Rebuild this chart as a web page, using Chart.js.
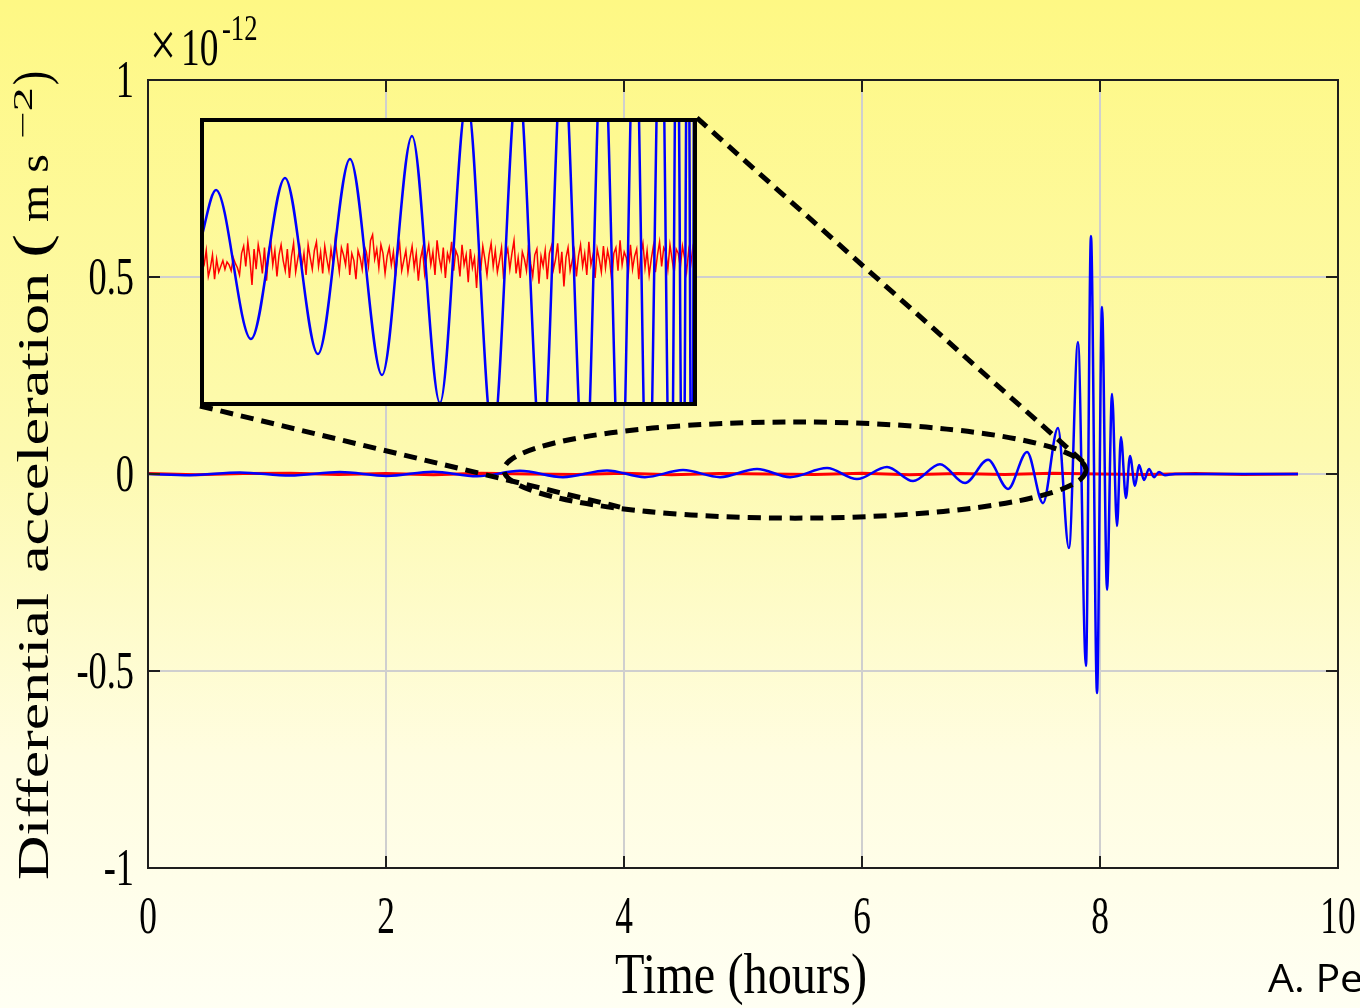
<!DOCTYPE html>
<html>
<head>
<meta charset="utf-8">
<script src="https://cdn.jsdelivr.net/npm/chart.js@4.4.1/dist/chart.umd.min.js"></script>
<style>
  html, body { margin: 0; padding: 0; }
  body {
    width: 1360px; height: 1008px; overflow: hidden; position: relative;
    background: linear-gradient(to bottom, #fef884 0%, #fdfab0 45%, #fffde0 75%, #fffff3 100%);
  }
  #main { position: absolute; left: 0; top: 0; }
  #inset { position: absolute; }
</style>
</head>
<body>
<canvas id="main" width="1360" height="1008"></canvas>
<canvas id="inset" width="497" height="288"></canvas>
<script>
// Main signal (blue), values in units of 1e-12 m s^-2, time in hours
const mainHours = [0, 0.353, 0.773, 1.193, 1.613, 2.008, 2.395, 2.765, 3.126, 3.487, 3.857, 4.176,
  4.496, 4.807, 5.118, 5.395, 5.706, 5.958, 6.210, 6.429, 6.655, 6.866, 7.059, 7.227, 7.387, 7.521,
  7.647, 7.739, 7.815, 7.882, 7.924, 7.975, 8.017, 8.059, 8.101, 8.143, 8.176, 8.218, 8.252, 8.294,
  8.328, 8.370, 8.412, 8.454, 8.496, 8.546, 8.63, 9.664];
const mainBlue = [0, -0.003, 0.004, -0.004, 0.005, -0.005, 0.006, -0.006, 0.008, -0.008, 0.009, -0.008,
  0.010, -0.008, 0.013, -0.008, 0.015, -0.013, 0.018, -0.018, 0.025, -0.023, 0.036, -0.038, 0.056, -0.074,
  0.117, -0.188, 0.335, -0.487, 0.604, -0.556, 0.424, -0.294, 0.203, -0.132, 0.094, -0.061, 0.046, -0.030,
  0.023, -0.015, 0.013, -0.008, 0.005, -0.003, 0, 0];

// Noise floor (red) on the main axes
const redHours = [0, 0.4, 0.8, 1.2, 1.6, 2.0, 2.4, 2.8, 3.2, 3.6, 4.0, 4.4, 4.8, 5.2, 5.6, 6.0,
  6.4, 6.8, 7.2, 7.6, 8.0, 8.4, 8.8, 9.2, 9.664];
const redMain = [0.001, -0.002, 0.001, 0.002, -0.001, 0.001, -0.002, 0.002, 0, -0.001, 0.002, -0.002,
  0.001, 0, -0.001, 0.002, -0.002, 0.001, -0.001, 0.002, 0, -0.001, 0.001, -0.001, 0];

// Zoomed inset (arbitrary units)
const insetHours = [3.000, 3.157, 3.500, 3.833, 4.156, 4.470, 4.784, 5.078, 5.352, 5.617, 5.871, 6.116,
  6.352, 6.557, 6.773, 6.949, 7.126, 7.263, 7.390, 7.518, 7.616, 7.675, 7.733, 7.782, 7.822, 7.851, 7.871];
const insetBlue = [0.13, 0.50, -0.535, 0.583, -0.639, 0.715, -0.785, 0.875, -0.979, 1.13, -1.22, 1.3,
  -1.4, 1.5, -1.6, 1.7, -1.8, 1.9, -2.0, 2.1, -2.2, 2.3, -2.4, 2.5, -2.6, 2.7, -2.8];
const insetRed = [
  0.03, -0.06, -0.02, 0.08, -0.10, -0.04, 0.05, -0.12, 0.02, -0.07,
  -0.03, 0.01, -0.05, 0.00, -0.02, -0.06, 0.03, -0.01, -0.04, -0.09,
  0.06, 0.11, -0.03, 0.14, 0.02, -0.16, 0.09, -0.05, 0.12, 0.04,
  -0.08, 0.10, -0.13, 0.07, 0.15, -0.02, 0.08, -0.10, 0.05, 0.12,
  0.01, -0.06, 0.09, -0.11, 0.04, 0.13, -0.07, 0.02, 0.10, -0.04,
  0.06, -0.09, 0.12, 0.03, -0.05, 0.08, 0.14, -0.03, 0.07, -0.08,
  0.11, 0.02, -0.06, 0.09, -0.01, 0.16, 0.04, -0.07, 0.10, 0.05,
  -0.02, 0.13, -0.09, 0.06, 0.01, -0.12, 0.08, 0.03, -0.05, 0.11,
  0.07, -0.03, 0.15, 0.19, 0.02, 0.09, -0.04, 0.12, 0.06, -0.08,
  0.04, 0.10, -0.02, 0.07, -0.10, 0.05, 0.13, -0.06, 0.01, 0.08,
  -0.07, 0.03, 0.11, -0.04, 0.06, -0.13, 0.02, 0.09, -0.08, 0.04,
  0.12, -0.02, 0.07, -0.09, 0.15, 0.03, -0.05, 0.10, -0.11, 0.06,
  0.01, 0.14, -0.06, 0.08, 0.04, -0.10, 0.12, -0.02, 0.05, -0.14,
  0.09, -0.04, 0.03, -0.18, 0.07, -0.06, 0.11, 0.02, -0.09, 0.05,
  0.13, -0.03, 0.08, -0.07, 0.01, 0.10, -0.12, 0.04, 0.09, -0.05,
  0.06, 0.15, -0.08, 0.03, -0.11, 0.07, 0.02, -0.06, 0.12, -0.01,
  -0.10, 0.05, 0.09, -0.15, 0.04, -0.03, 0.08, -0.12, 0.06, 0.11,
  -0.05, 0.02, 0.13, -0.08, 0.07, -0.17, 0.03, 0.10, -0.06, 0.01,
  0.08, -0.10, 0.04, 0.12, -0.03, 0.06, -0.09, 0.14, -0.02, 0.05,
  -0.11, 0.09, 0.02, -0.07, 0.11, -0.04, 0.08, 0.01, -0.13, 0.06,
  0.10, -0.06, 0.15, -0.02, 0.07, 0.03, -0.08, 0.12, -0.05, 0.04,
  0.09, -0.12, 0.06, 0.13, -0.04, 0.08, -0.09, 0.02, 0.11, -0.07,
  0.05, 0.14, -0.03, 0.10, 0.07, -0.05, 0.12, 0.02, -0.08, 0.09,
  0.06, -0.04, 0.11, 0.03, -0.07, 0.08, -0.02, 0.10, 0.04, 0.07];

// Ticks
const xTicks = [0, 2, 4, 6, 8, 10];
const xTickLabels = ["0", "2", "4", "6", "8", "10"];
const yTicks = [-1, -0.5, 0, 0.5, 1];
const yTickLabels = ["-1", "-0.5", "0", "0.5", "1"];

// Annotation geometry in data coordinates (hours, 1e-12 m s^-2)
const insetBox = { t0: 0.437, t1: 4.613, v0: 0.1726, v1: 0.9036 };
const zoomEllipse = { t: 5.437, v: 0.01, rt: 2.445, rv: 0.122 };

const SERIF = "'Liberation Serif', 'DejaVu Serif', serif";

// draw text, squeezed horizontally by sx (or fitted to width)
const drawText = (ctx, txt, x, y, o) => {
  ctx.save();
  ctx.font = o.font;
  const w = ctx.measureText(txt).width;
  const sx = o.width ? o.width / w : (o.sx || 1);
  ctx.translate(x, y);
  ctx.scale(sx, o.sy || 1);
  ctx.textAlign = o.align || "left";
  ctx.textBaseline = "alphabetic";
  ctx.fillStyle = o.color || "#000";
  ctx.fillText(txt, 0, 0);
  ctx.restore();
};

const toPts = (xs, ys) => xs.map((t, i) => ({ x: t, y: ys[i] }));

// Dashed zoom marks
const zoomMarks = {
  id: "zoomMarks",
  afterDatasetsDraw(chart) {
    const { ctx, scales: { x, y } } = chart;
    ctx.save();
    ctx.strokeStyle = "#000";
    ctx.lineWidth = 5;
    ctx.setLineDash([13, 8]);
    // ellipse
    const cx = x.getPixelForValue(zoomEllipse.t);
    const cy = y.getPixelForValue(zoomEllipse.v);
    const rx = x.getPixelForValue(zoomEllipse.t + zoomEllipse.rt) - cx;
    const ry = cy - y.getPixelForValue(zoomEllipse.v + zoomEllipse.rv);
    ctx.beginPath();
    ctx.ellipse(cx, cy, rx, ry, 0, 0, Math.PI * 2);
    ctx.stroke();
    // connector lines
    ctx.beginPath();
    ctx.moveTo(x.getPixelForValue(insetBox.t1), y.getPixelForValue(insetBox.v1));
    ctx.lineTo(x.getPixelForValue(7.88), y.getPixelForValue(0.025));
    ctx.moveTo(x.getPixelForValue(insetBox.t0), y.getPixelForValue(insetBox.v0));
    ctx.lineTo(x.getPixelForValue(3.966), y.getPixelForValue(-0.084));
    ctx.stroke();
    ctx.restore();
  },
};

// y title pieces: offset along the text, length, font, raise
const yTitleParts = [
  { t: "Differential", at: 0, len: 287, f: `62px ${SERIF}`, dy: 0 },
  { t: "acceleration", at: 307, len: 300, f: `62px ${SERIF}`, dy: 0 },
  { t: "(", at: 622, len: 24, f: `70px ${SERIF}`, dy: 0 },
  { t: "m s", at: 658, len: 68, f: `58px ${SERIF}`, dy: 0 },
  { t: "\u22122", at: 741, len: 52, f: `38px ${SERIF}`, dy: -22 },
  { t: ")", at: 795, len: 14, f: `70px ${SERIF}`, dy: 0 },
];

// Box, inward ticks and all the text
const frame = {
  id: "frame",
  afterDraw(chart) {
    const { ctx, chartArea: a, scales: { x, y } } = chart;
    ctx.save();
    ctx.strokeStyle = "#1e1e1e";
    ctx.lineWidth = 2;
    ctx.strokeRect(a.left, a.top, a.width, a.height);
    ctx.beginPath();
    xTicks.forEach((t) => {
      const px = x.getPixelForValue(t);
      ctx.moveTo(px, a.bottom); ctx.lineTo(px, a.bottom - 12);
      ctx.moveTo(px, a.top); ctx.lineTo(px, a.top + 12);
    });
    yTicks.forEach((v) => {
      const py = y.getPixelForValue(v);
      ctx.moveTo(a.left, py); ctx.lineTo(a.left + 12, py);
      ctx.moveTo(a.right, py); ctx.lineTo(a.right - 12, py);
    });
    ctx.stroke();
    ctx.restore();

    const tickFont = `52px ${SERIF}`;
    xTicks.forEach((t, i) => {
      drawText(ctx, xTickLabels[i], x.getPixelForValue(t), a.bottom + 65, { font: tickFont, sx: 0.68, align: "center" });
    });
    yTicks.forEach((v, i) => {
      drawText(ctx, yTickLabels[i], a.left - 14, y.getPixelForValue(v) + 17, { font: tickFont, sx: 0.7, align: "right" });
    });

    // exponent
    drawText(ctx, "\u00d7", 150, 66, { font: `64px ${SERIF}`, sx: 0.72 });
    drawText(ctx, "10", 181, 65, { font: `52px ${SERIF}`, sx: 0.72 });
    drawText(ctx, "-12", 222, 40, { font: `36px ${SERIF}`, sx: 0.74 });

    // x title
    drawText(ctx, "Time (hours)", 741, 993, { font: `57px ${SERIF}`, width: 252, align: "center" });

    // y title, rotated; glyphs squeezed across the text direction
    ctx.save();
    ctx.translate(48, 880);
    ctx.rotate(-Math.PI / 2);
    yTitleParts.forEach((p) => {
      drawText(ctx, p.t, p.at, p.dy * 0.72, { font: p.f, width: p.len, sy: 0.72 });
    });
    ctx.restore();

    // credit
    drawText(ctx, "A. Pe", 1268, 992, { font: "38px 'Open Sans', 'Liberation Sans', sans-serif", sx: 1.08 });
  },
};

const hideScale = (s) => { s.width = 0; s.height = 0; };

const mainChart = new Chart(document.getElementById("main"), {
  type: "line",
  data: {
    datasets: [
      {
        label: "signal",
        data: toPts(mainHours, mainBlue),
        borderColor: "#0000ff",
        borderWidth: 2.5,
        pointRadius: 0,
        cubicInterpolationMode: "monotone",
      },
      {
        label: "noise",
        data: toPts(redHours, redMain),
        borderColor: "#ff0000",
        borderWidth: 3,
        pointRadius: 0,
      },
    ],
  },
  plugins: [zoomMarks, frame],
  options: {
    responsive: false,
    animation: false,
    layout: { padding: { left: 148, top: 80, right: 22, bottom: 140 } },
    plugins: { legend: { display: false }, tooltip: { enabled: false } },
    scales: {
      x: {
        type: "linear", min: 0, max: 10,
        ticks: { stepSize: 2, display: false },
        grid: { color: "#cfcfcf", lineWidth: 2, drawTicks: false },
        border: { display: false },
        afterFit: hideScale,
      },
      y: {
        type: "linear", min: -1, max: 1,
        ticks: { stepSize: 0.5, display: false },
        grid: { color: "#cfcfcf", lineWidth: 2, drawTicks: false },
        border: { display: false },
        afterFit: hideScale,
      },
    },
  },
});

// place the inset over the main axes
const insetCanvas = document.getElementById("inset");
const mx = mainChart.scales.x, my = mainChart.scales.y;
const insetLeft = Math.round(mx.getPixelForValue(insetBox.t0));
const insetTop = Math.round(my.getPixelForValue(insetBox.v1));
const insetRight = Math.round(mx.getPixelForValue(insetBox.t1));
const insetBottom = Math.round(my.getPixelForValue(insetBox.v0));
insetCanvas.width = insetRight - insetLeft;
insetCanvas.height = insetBottom - insetTop;
insetCanvas.style.left = insetLeft + "px";
insetCanvas.style.top = insetTop + "px";
// opaque background matching the page gradient
const lerpCol = (p) => {
  const stops = [[0, [254, 248, 132]], [0.45, [253, 250, 176]], [0.75, [255, 253, 224]], [1, [255, 255, 243]]];
  for (let i = 1; i < stops.length; i++) {
    if (p <= stops[i][0]) {
      const f = (p - stops[i - 1][0]) / (stops[i][0] - stops[i - 1][0]);
      const c = stops[i - 1][1].map((v, k) => Math.round(v + (stops[i][1][k] - v) * f));
      return `rgb(${c.join(",")})`;
    }
  }
  return "rgb(255,255,243)";
};
insetCanvas.style.background =
  `linear-gradient(to bottom, ${lerpCol(insetTop / 1008)}, ${lerpCol(insetBottom / 1008)})`;

const insetBorder = {
  id: "insetBorder",
  afterDraw(chart) {
    const { ctx, width, height } = chart;
    ctx.save();
    ctx.strokeStyle = "#000";
    ctx.lineWidth = 4;
    ctx.strokeRect(2, 2, width - 4, height - 4);
    ctx.restore();
  },
};

new Chart(insetCanvas, {
  type: "line",
  data: {
    datasets: [
      {
        label: "signal",
        data: toPts(insetHours, insetBlue),
        borderColor: "#0000ff",
        borderWidth: 2.5,
        pointRadius: 0,
        cubicInterpolationMode: "monotone",
      },
      {
        label: "noise",
        xAxisID: "xr",
        data: insetRed.map((v, i) => ({ x: i, y: v })),
        borderColor: "#ff0000",
        borderWidth: 1.5,
        pointRadius: 0,
      },
    ],
  },
  plugins: [insetBorder],
  options: {
    responsive: false,
    animation: false,
    layout: { padding: 0 },
    plugins: { legend: { display: false }, tooltip: { enabled: false } },
    scales: {
      x: { type: "linear", min: insetHours[0], max: insetHours[insetHours.length - 1], display: false },
      xr: { type: "linear", min: 0, max: insetRed.length - 1, display: false },
      y: { type: "linear", min: -1, max: 1, display: false },
    },
  },
});
</script>
</body>
</html>
